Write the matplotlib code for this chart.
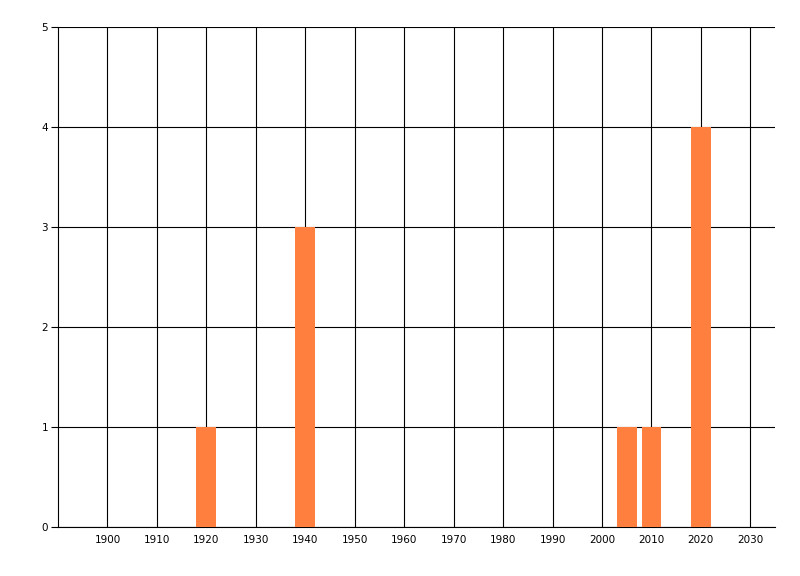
import matplotlib.pyplot as plt
import numpy as np

years = [1920, 1940, 2005, 2010, 2020]
counts = [1, 3, 1, 1, 4]
xticks = list(range(1900, 2031, 10))
yticks = [0, 1, 2, 3, 4, 5]

fig = plt.figure(figsize=(8, 5.76), dpi=100)
ax = fig.add_axes([0.0725, 0.0851, 0.8963, 0.868])

ax.bar(years, counts, width=4, color='#FF7F3F', zorder=3)

ax.set_xlim(1890, 2035)
ax.set_ylim(0, 5)
ax.set_xticks(xticks)
ax.set_yticks(yticks)
ax.tick_params(axis='x', length=0, pad=6, labelsize=7.5)
ax.tick_params(axis='y', length=5, width=0.8, pad=2, labelsize=7.5)
ax.grid(True, color='black', linewidth=0.8, zorder=1)

for side in ['top', 'right']:
    ax.spines[side].set_visible(False)
ax.spines['left'].set_linewidth(0.8)
ax.spines['bottom'].set_linewidth(0.8)

plt.savefig('out.png', dpi=100)
